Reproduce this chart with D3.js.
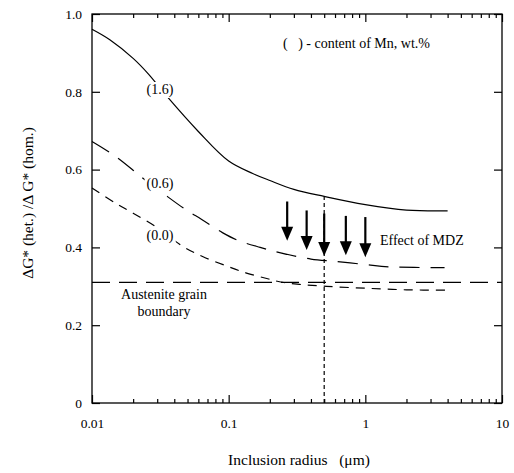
<!DOCTYPE html>
<html>
<head>
<meta charset="utf-8">
<script src="https://cdn.jsdelivr.net/npm/d3@7"></script>
<style>
  html, body { margin: 0; padding: 0; background: #fff; }
</style>
</head>
<body>
<svg id="chart" width="514" height="473"></svg>
<script>
// ---- data ----
const radius16 = [0.01, 0.0135, 0.02, 0.026, 0.035, 0.06, 0.1, 0.15, 0.2, 0.3, 0.5, 1.0, 2.0, 4.0];
const ratio16  = [0.961, 0.934, 0.886, 0.845, 0.79, 0.698, 0.622, 0.59, 0.572, 0.549, 0.531, 0.51, 0.496, 0.494];

const radius06 = [0.01, 0.015, 0.0236, 0.034, 0.049, 0.0635, 0.09, 0.117, 0.17, 0.24, 0.4, 0.6, 1.0, 1.5, 3.8];
const ratio06  = [0.672, 0.633, 0.578, 0.536, 0.496, 0.472, 0.438, 0.418, 0.400, 0.386, 0.37, 0.364, 0.356, 0.35, 0.348];

const radius00 = [0.01, 0.0147, 0.02, 0.03, 0.0465, 0.065, 0.097, 0.135, 0.19, 0.24, 0.33, 0.52, 1.0, 2.0, 4.0];
const ratio00  = [0.553, 0.515, 0.488, 0.451, 0.402, 0.376, 0.352, 0.334, 0.32, 0.311, 0.305, 0.300, 0.295, 0.291, 0.29];

const boundaryValue = 0.31;
const markerRadius = 0.5;
const markerTop = 0.53;

const arrowX   = [0.268, 0.372, 0.5, 0.72, 1.0];
const arrowTop = [0.518, 0.495, 0.487, 0.481, 0.478];
const arrowTip = [0.417, 0.393, 0.378, 0.380, 0.375];

const xMajorTicks = [0.01, 0.1, 1, 10];
const xTickLabels = ["0.01", "0.1", "1", "10"];
const yTicks = [0, 0.2, 0.4, 0.6, 0.8, 1.0];
const yTickLabels = ["0", "0.2", "0.4", "0.6", "0.8", "1.0"];

// ---- layout ----
const FONT = '"Liberation Serif", "DejaVu Serif", "Times New Roman", serif';
const svg = d3.select("#chart");
const L = 92, R = 502, T = 14, B = 403;

const x = d3.scaleLog().domain([0.01, 10]).range([L, R]);
const y = d3.scaleLinear().domain([0, 1]).range([B, T]);

const xMinor = [];
[0.01, 0.1, 1].forEach(d => { for (let k = 2; k <= 9; k++) xMinor.push(d * k); });

const fmtX = d => xTickLabels[xMajorTicks.indexOf(d)];
const fmtY = d => yTickLabels[yTicks.findIndex(v => Math.abs(v - d) < 1e-9)];

function styleAxis(g) {
  g.attr("font-family", FONT).attr("font-size", 13.5);
  g.select(".domain").remove();
  g.selectAll(".tick line").attr("stroke", "#000").attr("stroke-width", 1.2);
  g.selectAll(".tick text").attr("fill", "#000").attr("font-family", FONT).attr("font-size", 13.5);
}

svg.append("g").attr("transform", `translate(0,${B})`)
  .call(d3.axisBottom(x).tickValues(xMajorTicks).tickFormat(fmtX).tickSizeInner(-8).tickSizeOuter(0).tickPadding(15))
  .call(styleAxis);
svg.append("g").attr("transform", `translate(0,${B})`)
  .call(d3.axisBottom(x).tickValues(xMinor).tickFormat("").tickSizeInner(-4).tickSizeOuter(0))
  .call(styleAxis);
svg.append("g").attr("transform", `translate(0,${T})`)
  .call(d3.axisTop(x).tickValues(xMajorTicks).tickFormat("").tickSizeInner(-8).tickSizeOuter(0))
  .call(styleAxis);
svg.append("g").attr("transform", `translate(0,${T})`)
  .call(d3.axisTop(x).tickValues(xMinor).tickFormat("").tickSizeInner(-4).tickSizeOuter(0))
  .call(styleAxis);
svg.append("g").attr("transform", `translate(${L},0)`)
  .call(d3.axisLeft(y).tickValues(yTicks).tickFormat(fmtY).tickSizeInner(-8).tickSizeOuter(0).tickPadding(10))
  .call(styleAxis);
svg.append("g").attr("transform", `translate(${R},0)`)
  .call(d3.axisRight(y).tickValues(yTicks).tickFormat("").tickSizeInner(-8).tickSizeOuter(0))
  .call(styleAxis);

// frame
svg.append("rect").attr("x", L).attr("y", T).attr("width", R - L).attr("height", B - T)
  .attr("fill", "none").attr("stroke", "#000").attr("stroke-width", 1.3);

// lines
const line = d3.line().x(d => x(d[0])).y(d => y(d[1])).curve(d3.curveCatmullRom.alpha(0.5));
const zip = (a, b) => a.map((v, i) => [v, b[i]]);

svg.append("path").datum(zip(radius16, ratio16)).attr("d", line)
  .attr("fill", "none").attr("stroke", "#000").attr("stroke-width", 1.2);
svg.append("path").datum(zip(radius06, ratio06)).attr("d", line)
  .attr("fill", "none").attr("stroke", "#000").attr("stroke-width", 1.2).attr("stroke-dasharray", "20,11");
svg.append("path").datum(zip(radius00, ratio00)).attr("d", line)
  .attr("fill", "none").attr("stroke", "#000").attr("stroke-width", 1.2).attr("stroke-dasharray", "9,7");

// grain boundary line
svg.append("line").attr("x1", x(0.01)).attr("x2", x(10)).attr("y1", y(boundaryValue)).attr("y2", y(boundaryValue))
  .attr("stroke", "#000").attr("stroke-width", 1.2).attr("stroke-dasharray", "18,9");

// vertical dotted marker
svg.append("line").attr("x1", x(markerRadius)).attr("x2", x(markerRadius)).attr("y1", y(0)).attr("y2", y(markerTop))
  .attr("stroke", "#000").attr("stroke-width", 1.2).attr("stroke-dasharray", "4,3");

// arrows
arrowX.forEach((ax, i) => {
  const px = x(ax), y0 = y(arrowTop[i]), y1 = y(arrowTip[i]);
  const headH = 14, headW = 6;
  svg.append("line").attr("x1", px).attr("x2", px).attr("y1", y0).attr("y2", y1 - headH + 1)
    .attr("stroke", "#000").attr("stroke-width", 2.2);
  svg.append("path").attr("d", `M${px - headW},${y1 - headH} L${px + headW},${y1 - headH} L${px},${y1} Z`)
    .attr("fill", "#000");
});

function addText(txt, xx, yy, size, anchor) {
  return svg.append("text").attr("x", xx).attr("y", yy)
    .attr("text-anchor", anchor || "start")
    .attr("font-family", FONT).attr("font-size", size).attr("fill", "#000")
    .style("white-space", "pre").text(txt);
}

// labels with white backing
function label(txt, cx, by, size) {
  const t = addText(txt, cx, by, size, "middle");
  const bb = t.node().getBBox();
  svg.insert("rect", () => t.node()).attr("x", bb.x - 2).attr("y", bb.y).attr("width", bb.width + 4).attr("height", bb.height)
    .attr("fill", "#fff");
  return t;
}
label("(1.6)", 160, 94, 14);
label("(0.6)", 160, 188, 14);
label("(0.0)", 160, 240, 14);

addText("(   ) - content of Mn, wt.%", 283, 48, 14);
addText("Effect of MDZ", 380, 245, 14);
addText("Austenite grain", 164, 299, 14, "middle");
addText("boundary", 164, 316, 14, "middle");

// axis titles
addText("Inclusion radius   (\u03bcm)", 299, 465, 15.5, "middle");
svg.append("text").attr("transform", `translate(33,203) rotate(-90)`).attr("text-anchor", "middle")
  .attr("font-family", FONT).attr("font-size", 15.5).attr("fill", "#000")
  .text("\u0394G* (het.) /\u0394 G* (hom.)");
</script>
</body>
</html>
